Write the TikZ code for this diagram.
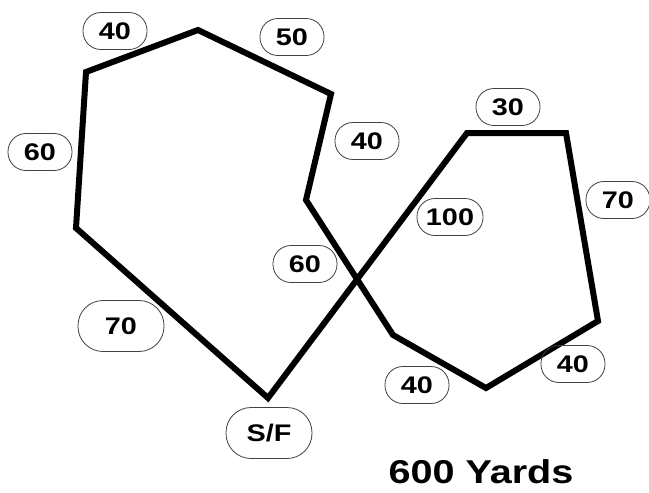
\documentclass[tikz,border=0pt]{standalone}
\usepackage{graphicx}
\usepackage{fontspec}
\setsansfont{Liberation Sans}
\usepackage{tikz}
\usetikzlibrary{positioning}
% the reference letters are drawn a bit wide
\newcommand{\wide}[1]{\scalebox{1.2}[1]{#1}}

\begin{document}
\begin{tikzpicture}[
  x=1pt, y=-1pt,
  track/.style={line width=6pt, line join=miter},
  dist/.style={draw=black!75, line width=0.8pt, rounded corners=18pt, minimum width=64pt, minimum height=37pt, inner sep=0pt, font=\sffamily\bfseries\fontsize{24}{24}\selectfont},
  bigdist/.style={dist, rounded corners=25pt, minimum width=86pt, minimum height=51pt},
  title/.style={inner sep=0pt, font=\sffamily\bfseries\fontsize{33}{33}\selectfont}]

  \useasboundingbox (0,0) rectangle (649,493);

  % corners of the course
  \coordinate (sf) at (268,398);
  \coordinate (a) at (467,133);
  \coordinate (b) at (566,133);
  \coordinate (c) at (598,321);
  \coordinate (d) at (486,388);
  \coordinate (e) at (393,335);
  \coordinate (f) at (306,200);
  \coordinate (g) at (331,94);
  \coordinate (h) at (198,30);
  \coordinate (i) at (86,72);
  \coordinate (j) at (76,228);

  \draw[track] (sf) -- (a) -- (b) -- (c) -- (d) -- (e) -- (f) -- (g) -- (h) -- (i) -- (j) -- cycle;

  % distances
  \node[dist] (d40a) at (115,31) {\wide{40}};
  \node[dist] (d50) at (292,37) {\wide{50}};
  \node[dist] (d60a) at (40,152) {\wide{60}};
  \node[dist] (d40b) at (367,141) {\wide{40}};
  \node[dist] (d30) at (508,107) {\wide{30}};
  \node[dist] (d70a) at (618,200) {\wide{70}};
  \node[dist, minimum width=66pt] (d100) at (450,217) {\wide{100}};
  \node[dist] (d60b) at (305,264) {\wide{60}};
  \node[bigdist] (d70b) at (121,326) {\wide{70}};
  \node[bigdist] (start) at (269,433) {\wide{S/F}};
  \node[dist] (d40c) at (417,385) {\wide{40}};
  \node[dist] (d40d) at (573,364) {\wide{40}};

  \node[title] (total) at (481,472) {\wide{600 Yards}};
\end{tikzpicture}
\end{document}
